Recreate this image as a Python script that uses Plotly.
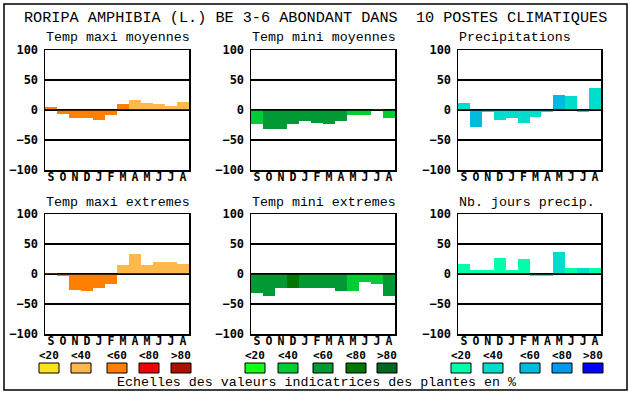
import plotly.graph_objects as go

# ---------------- data ----------------
months = ["S", "O", "N", "D", "J", "F", "M", "A", "M", "J", "J", "A"]
y_ticks = [-100, -50, 0, 50, 100]
scale_labels = ["<20", "<40", "<60", "<80", ">80"]

main_title = "RORIPA AMPHIBIA (L.) BE 3-6 ABONDANT DANS  10 POSTES CLIMATIQUES"
footer = "Echelles des valeurs indicatrices des plantes en %"

panel_titles = ["Temp maxi moyennes", "Temp mini moyennes", "Precipitations",
                "Temp maxi extremes", "Temp mini extremes", "Nb. jours precip."]

tmax_moy = [5, -6, -13, -13, -17, -8, 10, 17, 12, 10, 7, 13]
tmax_moy_lvl = [2, 2, 2, 2, 2, 2, 2, 1, 1, 1, 1, 1]

tmin_moy = [-23, -31, -31, -24, -18, -21, -24, -18, -8, -8, 2, -13]
tmin_moy_lvl = [1, 2, 2, 2, 2, 2, 2, 2, 1, 1, 1, 1]

precip = [12, -28, -4, -16, -13, -21, -11, -3, 25, 23, -3, 37]
precip_lvl = [1, 2, 1, 1, 1, 1, 1, 1, 2, 1, 1, 1]

tmax_ext = [2, -4, -26, -28, -24, -16, 15, 34, 15, 20, 20, 17]
tmax_ext_lvl = [1, 2, 2, 2, 2, 2, 1, 1, 1, 1, 1, 1]

tmin_ext = [-31, -36, -24, -24, -24, -24, -23, -28, -28, -13, -16, -36]
tmin_ext_lvl = [2, 2, 2, 3, 2, 2, 2, 2, 1, 1, 1, 2]

nb_jours = [17, 7, 7, 27, 7, 25, -3, -4, 37, 10, 10, 10]
nb_jours_lvl = [0, 0, 0, 0, 0, 0, 0, 0, 1, 0, 1, 0]

orange_scale = ["#F8E21C", "#FFB84C", "#FF8000", "#EE0000", "#AA1100"]
green_scale = ["#11FF11", "#00CC33", "#009933", "#007700", "#006622"]
blue_scale = ["#00FFAA", "#00DDCC", "#00BBDD", "#0099EE", "#0000FF"]

series = [
    (tmax_moy, tmax_moy_lvl, orange_scale),
    (tmin_moy, tmin_moy_lvl, green_scale),
    (precip, precip_lvl, blue_scale),
    (tmax_ext, tmax_ext_lvl, orange_scale),
    (tmin_ext, tmin_ext_lvl, green_scale),
    (nb_jours, nb_jours_lvl, blue_scale),
]

# ---------------- layout geometry (pixels) ----------------
W, H = 630, 394
col_px = [(45, 189), (251, 395), (458, 601)]
row_px = [(50, 170), (214, 334)]
legend_sq_x = [[39, 71, 107, 139, 171], [245, 278, 313, 346, 377], [451, 483, 520, 552, 583]]


def px(x):
    return x / W


def py(y):
    return 1 - y / H


MONO = "Liberation Mono"
BOLD_MONO = "DejaVu Sans Mono"

fig = go.Figure()
layout = dict(
    width=W, height=H, margin=dict(l=0, r=0, t=0, b=0, pad=0, autoexpand=False),
    paper_bgcolor="white", plot_bgcolor="white", showlegend=False,
    bargap=0, template="none",
)
annotations = []
shapes = []

for i, (vals, lvls, pal) in enumerate(series):
    r, c = divmod(i, 3)
    ax = "" if i == 0 else str(i + 1)
    x0, x1 = col_px[c]
    y0, y1 = row_px[r]
    fig.add_trace(go.Bar(
        x=list(range(len(months))), y=vals,
        marker=dict(color=[pal[l] for l in lvls], line=dict(width=0)),
        width=1.0, xaxis="x" + ax, yaxis="y" + ax, hoverinfo="skip",
    ))
    layout["xaxis" + ax] = dict(
        domain=[px(x0), px(x1)], anchor="y" + ax, range=[-0.5, 11.5],
        tickmode="array", tickvals=list(range(len(months))), ticktext=months,
        ticks="", showgrid=False, zeroline=False, automargin=False,
        showline=True, mirror=True, linecolor="black", linewidth=1.5,
        tickfont=dict(family=BOLD_MONO, size=11.5, color="black", weight="bold"),
        ticklabelstandoff=-4, fixedrange=True,
    )
    layout["yaxis" + ax] = dict(
        domain=[py(y1), py(y0)], anchor="x" + ax, range=[-100, 100],
        tickmode="array", tickvals=y_ticks, automargin=False,
        ticks="", showgrid=True, gridcolor="black", gridwidth=1.2,
        zeroline=True, zerolinecolor="black", zerolinewidth=1.5,
        showline=True, mirror=True, linecolor="black", linewidth=1.5,
        tickfont=dict(family=BOLD_MONO, size=12, color="black", weight="bold"),
        ticklabelstandoff=3, fixedrange=True,
    )
    # zero line drawn above the bars
    shapes.append(dict(type="line", xref="x" + ax + " domain", yref="y" + ax,
                       x0=0, x1=1, y0=0, y1=0, line=dict(color="black", width=1.5),
                       layer="above"))
    annotations.append(dict(
        text=panel_titles[i], xref="paper", yref="paper",
        x=px(x0 - 1), y=py(y0 - 12), xanchor="left", yanchor="middle",
        showarrow=False, font=dict(family=MONO, size=13.3, color="black"),
    ))

# legend swatches and labels
for c in range(3):
    pal = [orange_scale, green_scale, blue_scale][c]
    for k in range(5):
        sx = legend_sq_x[c][k]
        shapes.append(dict(type="rect", xref="paper", yref="paper",
                           x0=px(sx), x1=px(sx + 20), y0=py(373), y1=py(363),
                           fillcolor=pal[k], line=dict(color="black", width=1)))
        annotations.append(dict(
            text=scale_labels[k], xref="paper", yref="paper",
            x=px(sx + 10), y=py(355), xanchor="center", yanchor="middle",
            showarrow=False, font=dict(family=BOLD_MONO, size=11, color="black", weight="bold"),
        ))

# outer frame
shapes.append(dict(type="rect", xref="paper", yref="paper",
                   x0=px(4), x1=px(627), y0=py(390), y1=py(4),
                   line=dict(color="black", width=1.5), layer="below"))

annotations.append(dict(
    text=main_title, xref="paper", yref="paper", x=px(315), y=py(18),
    xanchor="center", yanchor="middle", showarrow=False,
    font=dict(family=MONO, size=15.2, color="black"),
))
annotations.append(dict(
    text=footer, xref="paper", yref="paper", x=px(316), y=py(382),
    xanchor="center", yanchor="middle", showarrow=False,
    font=dict(family=MONO, size=13.3, color="black"),
))

layout["annotations"] = annotations
layout["shapes"] = shapes
fig.update_layout(**layout)
fig.write_html(
    "out.html",
    config={"displayModeBar": False, "staticPlot": True},
    post_script="document.body.style.margin='0';document.body.style.padding='0';"
                "document.body.style.overflow='hidden';"
                "var d=document.getElementById('{plot_id}');"
                "if(d&&d.parentElement){d.parentElement.style.margin='0';"
                "d.parentElement.style.lineHeight='0';d.parentElement.style.fontSize='0';}",
)
